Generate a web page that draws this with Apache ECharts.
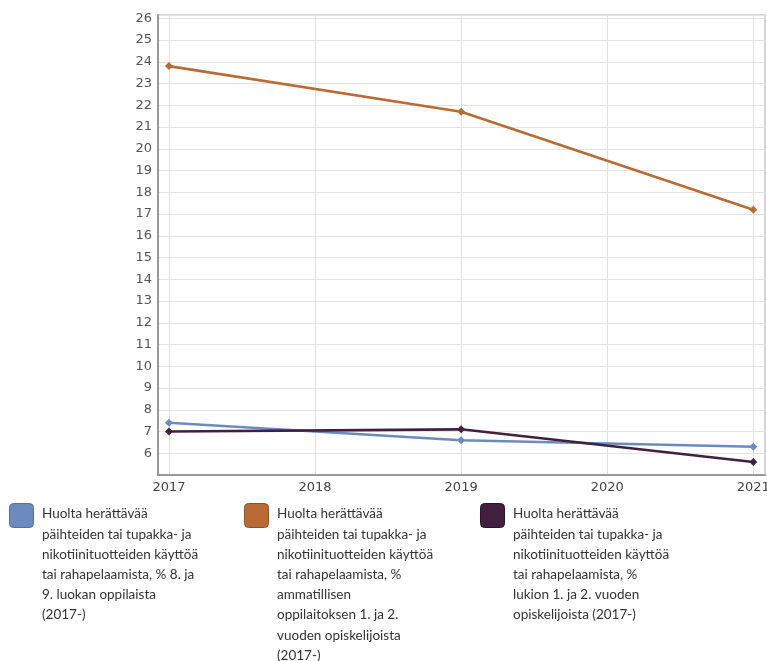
<!DOCTYPE html>
<html>
<head>
<meta charset="utf-8">
<script src="https://cdn.jsdelivr.net/npm/echarts@6/dist/echarts.min.js"></script>
<style>html,body{margin:0;padding:0;background:#fff}#c{width:767px;height:661px}</style>
</head>
<body>
<div id="c"></div>
<script>
var years = [2017, 2019, 2021];
var tickYears = [2017, 2018, 2019, 2020, 2021];
var seriesNames = [
  'Huolta herättävää päihteiden tai tupakka- ja nikotiinituotteiden käyttöä tai rahapelaamista, % 8. ja 9. luokan oppilaista (2017-)',
  'Huolta herättävää päihteiden tai tupakka- ja nikotiinituotteiden käyttöä tai rahapelaamista, % ammatillisen oppilaitoksen 1. ja 2. vuoden opiskelijoista (2017-)',
  'Huolta herättävää päihteiden tai tupakka- ja nikotiinituotteiden käyttöä tai rahapelaamista, % lukion 1. ja 2. vuoden opiskelijoista (2017-)'
];
var legendLines = [
  ['Huolta herättävää', 'päihteiden tai tupakka- ja', 'nikotiinituotteiden käyttöä', 'tai rahapelaamista, % 8. ja', '9. luokan oppilaista', '(2017-)'],
  ['Huolta herättävää', 'päihteiden tai tupakka- ja', 'nikotiinituotteiden käyttöä', 'tai rahapelaamista, %', 'ammatillisen', 'oppilaitoksen 1. ja 2.', 'vuoden opiskelijoista', '(2017-)'],
  ['Huolta herättävää', 'päihteiden tai tupakka- ja', 'nikotiinituotteiden käyttöä', 'tai rahapelaamista, %', 'lukion 1. ja 2. vuoden', 'opiskelijoista (2017-)']
];
var values8_9 = [7.4, 6.6, 6.3];
var valuesAmmatti = [23.8, 21.7, 17.2];
var valuesLukio = [7.0, 7.1, 5.6];

var colors = ['#6b8bbe', '#b96b35', '#41203f'];
var borderColors = ['#55709a', '#8f5228', '#2c142b'];
var allValues = [values8_9, valuesAmmatti, valuesLukio];

var series = allValues.map(function (vals, i) {
  return {
    name: seriesNames[i],
    type: 'line',
    data: years.map(function (y, j) { return [y, vals[j]]; }),
    symbol: 'diamond',
    symbolSize: 8,
    lineStyle: { width: 2.6, color: colors[i] },
    itemStyle: { color: colors[i] },
    emphasis: { disabled: true },
    z: 3
  };
});

var legendX = [9, 244, 480];
var graphics = [];
legendX.forEach(function (x, i) {
  graphics.push({
    type: 'rect', left: x, top: 503,
    shape: { width: 24, height: 24, r: 4 },
    style: { fill: colors[i], stroke: borderColors[i], lineWidth: 1 }
  });
  graphics.push({
    type: 'text', left: x + 33, top: 504,
    style: {
      text: legendLines[i].join('\n'),
      fill: '#333',
      font: '13.5px Lato',
      lineHeight: 20.2
    }
  });
});

var chart = echarts.init(document.getElementById('c'));
chart.setOption({
  animation: false,
  backgroundColor: '#fff',
  grid: { left: 158, right: 2, top: 15, bottom: 186, show: true, borderColor: '#c8c8c8', borderWidth: 1.5, outerBoundsMode: 'none', containLabel: false },
  xAxis: {
    type: 'value',
    min: 2016.925,
    max: 2021.08,
    axisLine: { show: true, lineStyle: { color: '#999', width: 2 } },
    axisTick: { show: false, customValues: tickYears },
    splitLine: { show: true, lineStyle: { color: '#e0e0e0', width: 1 } },
    axisLabel: {
      customValues: tickYears,
      color: '#444', fontSize: 13, fontFamily: 'DejaVu Sans', margin: 6,
      formatter: function (v) { return String(v); }
    }
  },
  yAxis: {
    type: 'value',
    min: 5,
    max: 26.15,
    interval: 1,
    axisLine: { show: true, lineStyle: { color: '#999', width: 2 } },
    axisTick: { show: false },
    splitLine: { show: true, lineStyle: { color: '#e3e3e3', width: 1 } },
    axisLabel: {
      color: '#555', fontSize: 13, fontFamily: 'DejaVu Sans', margin: 6,
      formatter: function (v) { return (Math.abs(v - Math.round(v)) < 1e-6 && v >= 6) ? String(Math.round(v)) : ''; }
    }
  },
  series: series,
  graphic: graphics
});
</script>
</body>
</html>
